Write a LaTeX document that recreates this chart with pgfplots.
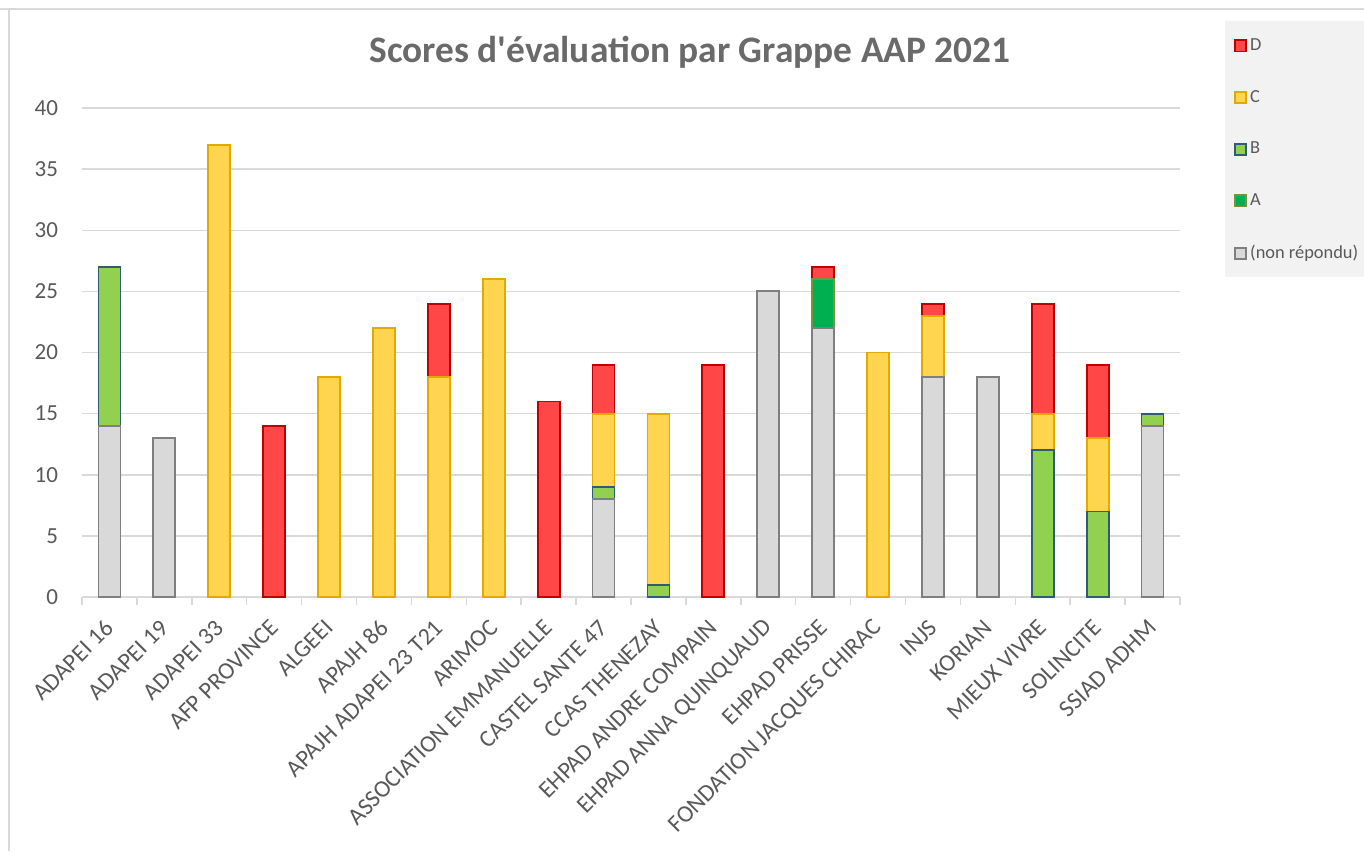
\documentclass[border=0pt]{standalone}
\usepackage{fontspec}
\setmainfont{Carlito}[Ligatures=TeXOff]
\usepackage{pgfplots}
\pgfplotsset{compat=1.18}
\definecolor{txt}{HTML}{595959}
\definecolor{ttl}{HTML}{6A6A6A}
\definecolor{gridc}{HTML}{D9D9D9}
\definecolor{panel}{HTML}{F2F2F2}
\definecolor{grayF}{HTML}{D9D9D9}
\definecolor{grayD}{HTML}{7F7F7F}
\definecolor{aF}{HTML}{00B050}
\definecolor{aD}{HTML}{77933C}
\definecolor{bF}{HTML}{92D050}
\definecolor{bD}{HTML}{2F5C72}
\definecolor{cF}{HTML}{FFD54F}
\definecolor{cD}{HTML}{E2AA00}
\definecolor{dF}{HTML}{FF4747}
\definecolor{dD}{HTML}{C00000}
\begin{document}
\begin{tikzpicture}
\useasboundingbox (0,0) rectangle (682pt,425.5pt);
\fill[panel] (612.5pt,287pt) rectangle (682pt,415pt);
\draw[gridc, line width=0.75pt] (0,421pt) -- (682pt,421pt);
\draw[gridc, line width=0.75pt] (4.5pt,421pt) -- (4.5pt,0);
\node[font=\fontsize{18.7}{22}\selectfont\bfseries, text=ttl] at (345pt,399.5pt) {Scores d'évaluation par Grappe AAP 2021};
\begin{axis}[
  at={(41pt,127pt)}, anchor=south west,
  scale only axis, width=549pt, height=244.5pt,
  xmin=-0.5, xmax=19.5, ymin=0, ymax=40,
  ybar, bar width=11pt, bar shift=0pt,
  axis x line*=bottom, axis y line*=left,
  y axis line style={draw=none},
  x axis line style={gridc, line width=0.75pt},
  ytick={0,5,...,40}, ymajorgrids, major grid style={gridc, line width=0.75pt},
  ytick style={draw=none},
  xtick={0,...,19},
  xticklabels={ADAPEI 16, ADAPEI 19, ADAPEI 33, AFP PROVINCE, ALGEEI, APAJH 86, APAJH ADAPEI 23 T21, ARIMOC, ASSOCIATION EMMANUELLE, CASTEL SANTE 47, CCAS THENEZAY, EHPAD ANDRE COMPAIN, EHPAD ANNA QUINQUAUD, EHPAD PRISSE, FONDATION JACQUES CHIRAC, INJS, KORIAN, MIEUX VIVRE, SOLINCITE, SSIAD ADHM},
  major tick length=0pt,
  minor xtick={-0.5,0.5,...,19.5}, minor tick length=4pt,
  xtick style={gridc, line width=0.75pt},
  tick align=outside,
  xticklabel style={xshift=2.5pt, yshift=-11pt, rotate=45, anchor=east, font=\fontsize{12}{14}\selectfont, text=txt},
  yticklabel style={xshift=-8.5pt, font=\fontsize{11.5}{13}\selectfont, text=txt},
  /pgf/number format/assume math mode=true,
  legend style={at={(1.049,1.149)}, anchor=north west, draw=none, fill=none,
    font=\fontsize{9.2}{11}\selectfont, text=txt, row sep=15.4pt, inner sep=0pt,
    nodes={inner sep=1.5pt}},
  legend cell align=left,
  legend image code/.code={\draw[#1] (0pt,-2.8pt) rectangle (5.6pt,2.8pt);},
]
% layer tops (cumulative heights)
\addplot[fill=dF, draw=dD, line width=0.9pt] coordinates {(3,14) (6,24) (8,16) (9,19) (11,19) (13,27) (15,24) (17,24) (18,19)};
\addlegendentry{D}
\addplot[fill=cF, draw=cD, line width=0.9pt] coordinates {(2,37) (4,18) (5,22) (6,18) (7,26) (9,15) (10,15) (14,20) (15,23) (17,15) (18,13)};
\addlegendentry{C}
\addplot[fill=bF, draw=bD, line width=0.9pt] coordinates {(0,27) (9,9) (10,1) (17,12) (18,7) (19,15)};
\addlegendentry{B}
\addplot[fill=aF, draw=aD, line width=0.9pt] coordinates {(13,26)};
\addlegendentry{A}
\addplot[fill=grayF, draw=grayD, line width=0.9pt] coordinates {(0,14) (1,13) (9,8) (12,25) (13,22) (15,18) (16,18) (19,14)};
\addlegendentry{(non répondu)}
\end{axis}
\end{tikzpicture}
\end{document}
